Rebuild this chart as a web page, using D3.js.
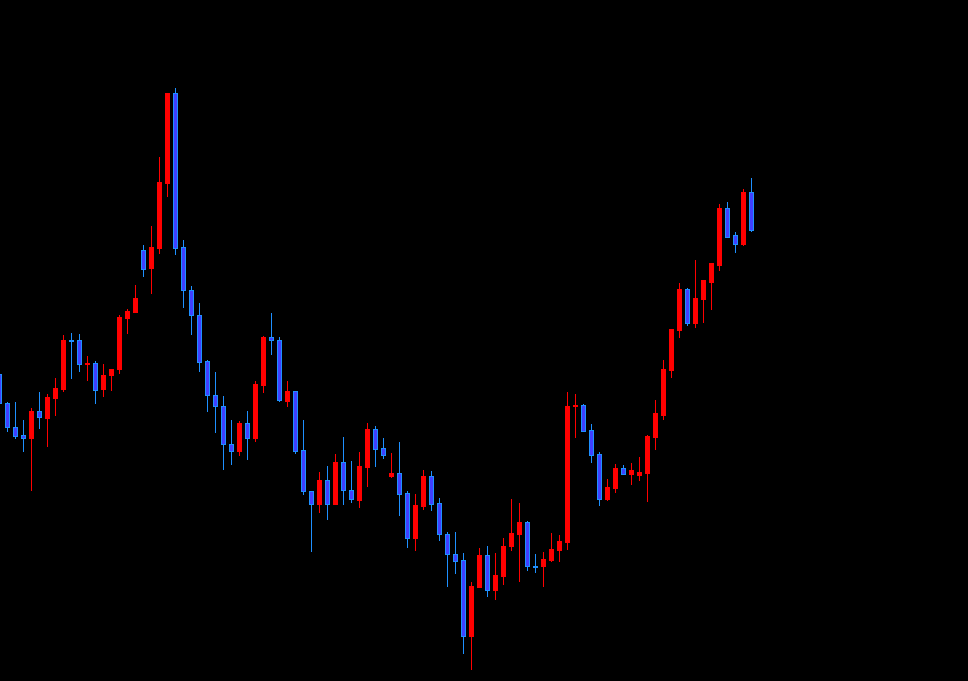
<!DOCTYPE html>
<html>
<head>
<meta charset="utf-8">
<script src="https://cdn.jsdelivr.net/npm/d3@7"></script>
<style>
    html, body { margin: 0; padding: 0; background: #000; overflow: hidden; }
    #chart { width: 968px; height: 681px; }
</style>
</head>
<body>
<div id="chart"></div>
<script>
// price bars (one entry per bar, left to right)
const opens = [
    130.7, 127.8, 125.4, 124.6, 124.35, 127.0, 126.35, 128.35, 129.2, 134.1,
    134.1, 131.75, 131.8, 129.15, 130.55, 131.15, 136.35, 136.95, 143.1, 141.25,
    143.35, 149.8, 158.8, 143.4, 139.1, 136.6, 132.0, 128.6, 127.5, 123.7,
    122.95, 125.8, 124.35, 129.6, 134.4, 134.1, 128.0, 129.0, 123.1, 119.0,
    117.7, 120.1, 117.7, 121.9, 119.1, 118.1, 121.4, 125.2, 123.3, 120.55,
    120.8, 118.8, 114.35, 117.5, 120.5, 117.8, 114.7, 112.7, 112.1, 104.55,
    109.45, 112.6, 109.15, 110.55, 113.45, 114.75, 115.9, 111.55, 111.45, 112.1,
    113.15, 113.9, 127.45, 127.6, 125.1, 122.7, 118.25, 119.35, 121.3, 120.75,
    120.6, 120.8, 124.4, 126.6, 131.1, 135.1, 139.2, 135.8, 138.2, 139.95,
    141.6, 147.35, 144.55, 143.65, 148.85
];
const highs = [
    130.7, 127.9, 127.9, 126.1, 127.3, 128.9, 128.7, 130.3, 134.6, 134.8,
    134.7, 132.5, 132.0, 131.7, 131.2, 136.6, 137.2, 139.6, 143.6, 145.5,
    152.4, 158.8, 159.3, 144.1, 139.5, 137.8, 132.1, 130.9, 128.5, 126.1,
    126.0, 127.0, 130.0, 134.5, 136.8, 134.4, 130.0, 129.0, 126.1, 119.0,
    120.9, 121.5, 122.7, 124.4, 122.0, 122.9, 125.8, 125.5, 124.3, 122.8,
    123.9, 119.0, 118.7, 121.1, 121.0, 118.3, 114.9, 114.9, 112.8, 109.9,
    113.3, 113.5, 112.8, 114.3, 118.2, 117.8, 116.0, 112.7, 112.9, 114.8,
    114.6, 128.9, 128.7, 127.7, 125.7, 122.9, 120.2, 121.7, 121.6, 121.8,
    122.4, 124.6, 128.1, 132.1, 135.2, 139.8, 139.3, 142.1, 140.05, 141.75,
    147.75, 147.95, 144.95, 149.15, 150.25
];
const lows = [
    127.8, 125.0, 124.3, 123.0, 119.1, 125.3, 123.5, 126.6, 129.0, 130.3,
    131.0, 130.1, 127.8, 128.5, 129.1, 130.8, 134.8, 136.95, 140.5, 138.8,
    142.8, 148.5, 142.7, 137.4, 134.7, 131.0, 127.0, 124.9, 121.2, 121.7,
    122.6, 122.2, 124.0, 128.9, 132.7, 128.0, 127.5, 122.8, 118.7, 113.0,
    116.9, 116.2, 117.7, 117.7, 117.9, 117.4, 119.5, 121.5, 122.3, 120.4,
    116.6, 113.4, 113.1, 117.2, 117.1, 114.1, 109.5, 110.8, 102.8, 101.2,
    109.4, 108.5, 108.2, 109.7, 113.1, 110.0, 111.1, 110.9, 109.5, 112.0,
    112.0, 113.2, 124.4, 125.0, 121.9, 117.6, 118.1, 118.9, 120.7, 119.7,
    120.1, 118.0, 123.2, 126.2, 130.4, 134.4, 135.6, 135.4, 135.9, 137.2,
    141.1, 144.4, 142.95, 143.6, 145.0
];
const closes = [
    127.8, 125.4, 124.5, 124.35, 127.0, 126.4, 128.4, 129.3, 134.1, 134.05,
    131.7, 131.8, 129.1, 130.6, 131.2, 136.4, 137.0, 138.3, 141.2, 143.4,
    149.9, 158.8, 143.35, 139.05, 136.55, 131.95, 128.55, 127.45, 123.65, 122.95,
    125.8, 124.35, 129.7, 134.4, 134.05, 128.05, 129.0, 123.0, 118.95, 117.75,
    120.1, 117.75, 121.9, 119.05, 118.15, 121.5, 125.2, 123.2, 122.6, 120.8,
    118.75, 114.35, 117.6, 120.5, 117.75, 114.65, 112.65, 112.05, 104.55, 109.5,
    112.6, 109.15, 110.6, 113.5, 114.8, 115.9, 111.45, 111.45, 112.2, 113.2,
    114.0, 127.5, 127.6, 125.05, 122.65, 118.25, 119.4, 121.3, 120.75, 121.1,
    120.9, 124.5, 126.75, 131.2, 135.2, 139.25, 135.8, 138.35, 140.05, 141.75,
    147.35, 144.45, 143.65, 148.85, 145.05
];

const upColor = '#ff0000';
const downFill = '#4040ff';
const downLine = '#1e90ff';

const width = 968, height = 681;

// up bar = close above open, everything else drawn as a down bar
let bars = opens.map((o, i) => ({
    i: i, open: o, high: highs[i], low: lows[i], close: closes[i],
    up: closes[i] > o
}));

let svg = d3.select('#chart').append('svg')
    .attr('width', width)
    .attr('height', height)
    .style('background', '#000')
    .attr('shape-rendering', 'crispEdges');

// 8px per bar, room for 121 bars across the window
let xScale = d3.scaleLinear().domain([0, 121]).range([-0.5, width - 0.5]);
let yScale = d3.scaleLinear().domain([168.1, 100]).range([0, height]);

svg.append('g').selectAll('line')
    .data(bars)
    .enter().append('line')
    .attr('x1', d => xScale(d.i))
    .attr('x2', d => xScale(d.i))
    .attr('y1', d => Math.round(yScale(d.high)))
    .attr('y2', d => Math.round(yScale(d.low)) + 1)
    .attr('stroke', d => d.up ? upColor : downLine)
    .attr('stroke-width', 1);

svg.append('g').selectAll('rect')
    .data(bars)
    .enter().append('rect')
    .each(function(d) {
        let top = Math.round(yScale(Math.max(d.open, d.close)));
        let bot = Math.round(yScale(Math.min(d.open, d.close)));
        let h = Math.max(1, bot - top + 1);
        let r = d3.select(this);
        if (d.up) {
            r.attr('x', xScale(d.i) - 2.5)
                .attr('y', top)
                .attr('width', 5)
                .attr('height', h)
                .attr('fill', upColor);
        } else {
            // blue bodies have a lighter 1px outline
            r.attr('x', xScale(d.i) - 2)
                .attr('y', top + 0.5)
                .attr('width', 4)
                .attr('height', Math.max(1, h - 1))
                .attr('fill', downFill)
                .attr('stroke', downLine)
                .attr('stroke-width', 1);
        }
    });
</script>
</body>
</html>
